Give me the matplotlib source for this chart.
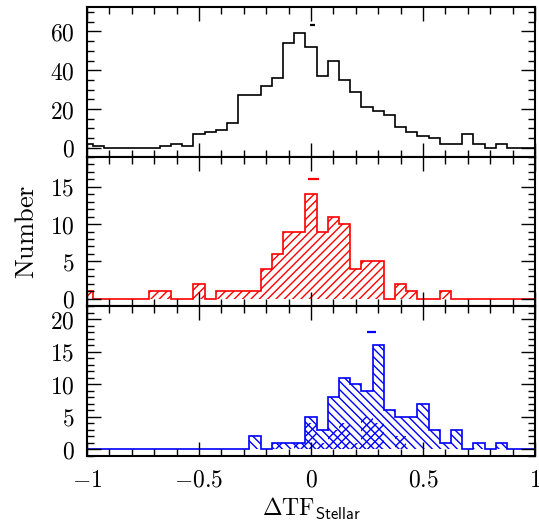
import numpy as np
import matplotlib
matplotlib.use('Agg')
import matplotlib.pyplot as plt
from matplotlib.ticker import MultipleLocator, FuncFormatter

plt.rcParams['mathtext.fontset'] = 'cm'
plt.rcParams['font.family'] = 'serif'
plt.rcParams['font.serif'] = ['DejaVu Serif']
plt.rcParams['hatch.linewidth'] = 1.0

# bins are centred on multiples of 0.05 from -1 to 1
centers = np.round(np.arange(-1.0, 1.0001, 0.05), 2)

# all galaxies (black)
n_all = [2, 1, 0, 0, 0, 0, 0, 1, 2, 1,
         7, 8, 9, 13, 27, 27, 32, 36, 54, 59,
         52, 37, 45, 35, 29, 21, 19, 17, 11, 8,
         6, 5, 2, 2, 7, 2, 0, 2, 0, 0, 0]

# red sample
n_red = [1, 0, 0, 0, 0, 0, 1, 1, 0, 0,
         2, 0, 1, 1, 1, 1, 4, 6, 9, 9,
         14, 9, 11, 10, 4, 5, 5, 0, 2, 1,
         0, 0, 1, 0, 0, 0, 0, 0, 0, 0, 0]

# blue sample and its cross-hatched subset
n_blue = [0, 0, 0, 0, 0, 0, 0, 0, 0, 0,
          0, 0, 0, 0, 0, 2, 0, 1, 1, 1,
          5, 3, 8, 11, 10, 9, 16, 6, 5, 5,
          7, 3, 1, 3, 0, 1, 0, 1, 0, 0, 0]
n_blue_sub = [0, 0, 0, 0, 0, 0, 0, 0, 0, 0,
              0, 0, 0, 0, 0, 0, 0, 1, 0, 1,
              4, 1, 3, 4, 1, 5, 4, 0, 2, 0,
              0, 0, 0, 0, 0, 0, 0, 0, 0, 0, 0]

# mean offsets with their errors, drawn as short bars above each histogram
mean_x = [0.007, 0.010, 0.270]
mean_err = [0.011, 0.024, 0.020]
mean_y = [63.5, 16.0, 18.0]

edges = np.append(centers - 0.025, centers[-1] + 0.025)

RED = '#ff0000'
BLUE = '#0000ff'

fig = plt.figure(figsize=(5.39, 5.23), dpi=100)
left, width = 0.1614, 0.8312
ax_top = fig.add_axes([left, 0.6998, width, 0.2868])
ax_mid = fig.add_axes([left, 0.4149, width, 0.2849])
ax_bot = fig.add_axes([left, 0.1281, width, 0.2868])

fmt = FuncFormatter(lambda v, p: '$%g$' % v)

# top panel: all galaxies
ax_top.stairs(n_all, edges, color='black', lw=1.2, baseline=0)
ax_top.errorbar(mean_x[0], mean_y[0], xerr=mean_err[0], color='black',
                lw=1.6, capsize=0)
ax_top.set_ylim(-4.7, 72.6)
ax_top.yaxis.set_major_locator(MultipleLocator(20))
ax_top.yaxis.set_minor_locator(MultipleLocator(5))

# middle panel: red
ax_mid.stairs(n_red, edges, fill=True, hatch='////', facecolor='none',
              edgecolor=RED, lw=0)
ax_mid.stairs(n_red, edges, color=RED, lw=1.2, baseline=0)
ax_mid.errorbar(mean_x[1], mean_y[1], xerr=mean_err[1], color=RED,
                lw=1.6, capsize=0)
ax_mid.set_ylim(-1, 19)
ax_mid.yaxis.set_major_locator(MultipleLocator(5))
ax_mid.yaxis.set_minor_locator(MultipleLocator(1))
ax_mid.set_ylabel(r'$\mathrm{Number}$', fontsize=19, labelpad=8)

# bottom panel: blue
ax_bot.stairs(n_blue, edges, fill=True, hatch='\\\\\\\\', facecolor='none',
              edgecolor=BLUE, lw=0)
ax_bot.stairs(n_blue_sub, edges, fill=True, hatch='////', facecolor='none',
              edgecolor=BLUE, lw=0)
ax_bot.stairs(n_blue, edges, color=BLUE, lw=1.2, baseline=0)
ax_bot.errorbar(mean_x[2], mean_y[2], xerr=mean_err[2], color=BLUE,
                lw=1.6, capsize=0)
ax_bot.set_ylim(-1, 22)
ax_bot.yaxis.set_major_locator(MultipleLocator(5))
ax_bot.yaxis.set_minor_locator(MultipleLocator(1))
ax_bot.set_xlabel(r'$\Delta\mathrm{TF}_{\mathsf{Stellar}}$', fontsize=17,
                  labelpad=3)

for ax in (ax_top, ax_mid, ax_bot):
    ax.set_xlim(-1, 1)
    ax.xaxis.set_major_locator(MultipleLocator(0.5))
    ax.xaxis.set_minor_locator(MultipleLocator(0.1))
    ax.tick_params(which='both', direction='in', top=True, right=True,
                   width=1.0, labelsize=17, pad=9)
    ax.tick_params(which='major', length=10)
    ax.tick_params(which='minor', length=5)
    ax.yaxis.set_major_formatter(fmt)
    ax.xaxis.set_major_formatter(fmt)
    for s in ax.spines.values():
        s.set_linewidth(1.5)

ax_top.tick_params(labelbottom=False)
ax_mid.tick_params(labelbottom=False)

fig.savefig('out.png', dpi=100)
